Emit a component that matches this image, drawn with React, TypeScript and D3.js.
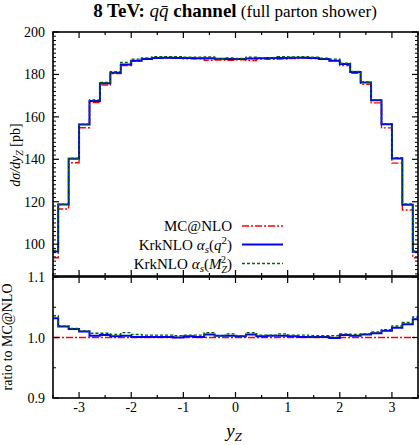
import React from "react";
import * as d3 from "d3";

const binCenters = [-3.5, -3.3, -3.1, -2.9, -2.7, -2.5, -2.3, -2.1, -1.9, -1.7, -1.5, -1.3, -1.1, -0.9, -0.7, -0.5, -0.3, -0.1,
  0.1, 0.3, 0.5, 0.7, 0.9, 1.1, 1.3, 1.5, 1.7, 1.9, 2.1, 2.3, 2.5, 2.7, 2.9, 3.1, 3.3, 3.5];

const mcnlo = [93.6, 116.6, 138.4, 154.9, 166.8, 175.0, 180.4, 184.2, 186.3, 187.1, 187.6, 187.7, 187.8, 187.4, 187.4, 186.7, 186.8, 186.7,
  186.9, 186.6, 187.2, 187.1, 187.2, 187.5, 187.7, 187.5, 187.1, 186.6, 184.2, 180.5, 175.3, 166.6, 154.8, 138.2, 116.1, 93.6];
const krkQ2 = [96.6, 118.7, 140.3, 156.4, 167.5, 175.8, 180.8, 184.7, 186.5, 187.3, 187.8, 187.9, 187.8, 187.8, 187.6, 187.6, 187.4, 187.3,
  187.3, 187.5, 187.6, 187.7, 187.8, 187.9, 187.9, 187.7, 187.3, 186.4, 184.9, 181.1, 176.2, 167.8, 156.5, 140.4, 118.6, 96.4];
const krkMZ = [97.0, 118.8, 140.5, 156.6, 168.0, 176.2, 181.3, 185.7, 187.2, 187.8, 188.3, 188.4, 188.4, 188.1, 188.1, 188.2, 187.4, 187.8,
  187.5, 188.1, 187.9, 187.8, 188.3, 188.2, 188.4, 188.1, 187.7, 187.2, 185.3, 181.4, 176.4, 168.1, 156.8, 140.8, 119.0, 96.8];

const ratioQ2 = [1.032, 1.018, 1.014, 1.010, 1.003, 1.004, 1.002, 1.003, 1.001, 1.001, 1.001, 1.001, 1.000, 1.002, 1.001, 1.005, 1.003, 1.003,
  1.002, 1.005, 1.002, 1.003, 1.003, 1.002, 1.001, 1.001, 1.001, 0.999, 1.004, 1.003, 1.005, 1.007, 1.011, 1.016, 1.022, 1.030];
const ratioMZ = [1.036, 1.019, 1.015, 1.011, 1.007, 1.007, 1.005, 1.008, 1.005, 1.004, 1.004, 1.004, 1.003, 1.004, 1.004, 1.008, 1.003, 1.006,
  1.003, 1.008, 1.004, 1.004, 1.006, 1.004, 1.004, 1.003, 1.003, 1.003, 1.006, 1.005, 1.006, 1.009, 1.013, 1.019, 1.025, 1.034];
const ratioRef = [1.0, 1.0];

const xTicks = [-3, -2, -1, 0, 1, 2, 3];
const upperTicks = [100, 120, 140, 160, 180, 200];
const lowerTicks = [0.9, 1.0, 1.1];
const legendLabels = ["MC@NLO", "KrkNLO", "KrkNLO"];

const W = 419, H = 445;
const L = 53, R = 418;
const UT = 32, UB = 276, LT = 277, LB = 398;
const FONT = "'Liberation Serif', 'DejaVu Serif', serif";

const x = d3.scaleLinear().domain([-3.5, 3.5]).range([L, R]);
const yU = d3.scaleLinear().domain([85, 200]).range([UB, UT]);
const yL = d3.scaleLinear().domain([0.9, 1.1]).range([LB, LT]);

function stepPath(vals: number[], y: d3.ScaleLinear<number, number>) {
  const pts: [number, number][] = [];
  binCenters.forEach((c, i) => {
    const a = Math.max(-3.5, c - 0.1), b = Math.min(3.5, c + 0.1);
    pts.push([a, vals[i]], [b, vals[i]]);
  });
  return d3.line<[number, number]>().x(d => x(d[0])).y(d => y(d[1]))(pts) || "";
}

const RED = "#ff0000", BLUE = "#0000ff", GREEN = "#006400";
const redDash = "7,2,2,2";
const greenDash = "3,2";

function Frame({ top, bottom, y, major, minor, fmt }: any) {
  const xMinor = d3.range(-3.5, 3.51, 0.5);
  return (
    <g>
      {xMinor.map((v, i) => {
        const isMajor = Math.abs(v - Math.round(v)) < 1e-6;
        const len = isMajor ? 6 : 3;
        return (
          <g key={"xt" + i}>
            <line x1={x(v)} x2={x(v)} y1={bottom} y2={bottom - len} stroke="#000" strokeWidth={1.2} />
            <line x1={x(v)} x2={x(v)} y1={top} y2={top + len} stroke="#000" strokeWidth={1.2} />
          </g>
        );
      })}
      {minor.map((v: number, i: number) => (
        <g key={"ym" + i}>
          <line x1={L} x2={L + 3} y1={y(v)} y2={y(v)} stroke="#000" strokeWidth={1} />
          <line x1={R} x2={R - 3} y1={y(v)} y2={y(v)} stroke="#000" strokeWidth={1} />
        </g>
      ))}
      {major.map((v: number, i: number) => (
        <g key={"yM" + i}>
          <line x1={L} x2={L + 6} y1={y(v)} y2={y(v)} stroke="#000" strokeWidth={1.2} />
          <line x1={R} x2={R - 6} y1={y(v)} y2={y(v)} stroke="#000" strokeWidth={1.2} />
          <text x={45} y={y(v) + 5} textAnchor="end" fontSize={14} fontFamily={FONT}>{fmt(v)}</text>
        </g>
      ))}
      <rect x={L} y={top} width={R - L} height={bottom - top} fill="none" stroke="#000" strokeWidth={1.6} />
    </g>
  );
}

export default function App() {
  const upperMinor = d3.range(86, 200, 2).filter(v => v % 20 !== 0);
  const lowerMinor = [0.95, 1.05];
  return (
    <svg width={W} height={H} style={{ position: "absolute", left: 0, top: 0, background: "#fff" }}>
      <defs>
        <clipPath id="cu"><rect x={L} y={UT} width={R - L} height={UB - UT} /></clipPath>
        <clipPath id="cl"><rect x={L} y={LT} width={R - L} height={LB - LT} /></clipPath>
      </defs>
      <rect width={W} height={H} fill="#fff" />
      {/* Title */}
      <text x={235} y={17} textAnchor="middle" fontFamily={FONT}>
        <tspan fontSize={19} fontWeight="bold">8 TeV: </tspan>
        <tspan fontSize={19} fontStyle="italic">{"q\u0071\u0304"}</tspan>
        <tspan fontSize={19} fontWeight="bold"> channel</tspan>
        <tspan fontSize={17}> (full parton shower)</tspan>
      </text>

      {/* Upper panel */}
      <g clipPath="url(#cu)">
        <path d={stepPath(mcnlo, yU)} fill="none" stroke={RED} strokeWidth={1.4} strokeDasharray={redDash} />
        <path d={stepPath(krkQ2, yU)} fill="none" stroke={BLUE} strokeWidth={2} />
        <path d={stepPath(krkMZ, yU)} fill="none" stroke={GREEN} strokeWidth={1.4} strokeDasharray={greenDash} />
      </g>
      <Frame top={UT} bottom={UB} y={yU} major={upperTicks} minor={upperMinor} fmt={(v: number) => String(v)} />

      {/* Legend */}
      <g fontFamily={FONT} fontSize={15}>
        <text x={232} y={231} textAnchor="end">{legendLabels[0]}</text>
        <line x1={242} x2={283} y1={226} y2={226} stroke={RED} strokeWidth={1.4} strokeDasharray={redDash} />
        <text x={232} y={250} textAnchor="end">{legendLabels[1]}<tspan dx={4} fontStyle="italic">α</tspan><tspan fontStyle="italic" fontSize={11} dy={3}>s</tspan><tspan dy={-3}>(</tspan><tspan fontStyle="italic">q</tspan><tspan fontSize={11} dy={-6}>2</tspan><tspan dy={6}>)</tspan></text>
        <line x1={242} x2={283} y1={244.5} y2={244.5} stroke={BLUE} strokeWidth={2} />
        <text x={232} y={269} textAnchor="end">{legendLabels[2]}<tspan dx={4} fontStyle="italic">α</tspan><tspan fontStyle="italic" fontSize={11} dy={3}>s</tspan><tspan dy={-3}>(</tspan><tspan fontStyle="italic">M</tspan><tspan fontStyle="italic" fontSize={10} dy={4}>Z</tspan><tspan fontSize={10} dy={-10} dx={-6}>2</tspan><tspan dy={6} dx={1}>)</tspan></text>
        <line x1={242} x2={283} y1={263.5} y2={263.5} stroke={GREEN} strokeWidth={1.4} strokeDasharray={greenDash} />
      </g>

      {/* Lower panel */}
      <g clipPath="url(#cl)">
        <path d={d3.line<number>().x((_, i) => x(i === 0 ? -3.5 : 3.5)).y(v => yL(v))(ratioRef) || ""} fill="none" stroke={RED} strokeWidth={1.4} strokeDasharray={redDash} />
        <path d={stepPath(ratioQ2, yL)} fill="none" stroke={BLUE} strokeWidth={2} />
        <path d={stepPath(ratioMZ, yL)} fill="none" stroke={GREEN} strokeWidth={1.4} strokeDasharray={greenDash} />
      </g>
      <Frame top={LT} bottom={LB} y={yL} major={lowerTicks} minor={lowerMinor} fmt={(v: number) => v.toFixed(1)} />

      {/* X tick labels */}
      {xTicks.map(v => (
        <text key={v} x={x(v)} y={412} textAnchor="middle" fontSize={14} fontFamily={FONT}>{v < 0 ? "-" + Math.abs(v) : String(v)}</text>
      ))}
      <text x={234} y={437} textAnchor="middle" fontFamily={FONT} fontSize={19} fontStyle="italic">y<tspan fontSize={13} dy={4}>Z</tspan></text>

      {/* Y labels */}
      <text transform="translate(20,155) rotate(-90)" textAnchor="middle" fontFamily={FONT} fontSize={14}>
        <tspan fontStyle="italic">dσ/dy</tspan><tspan fontStyle="italic" fontSize={10} dy={3}>Z</tspan><tspan dy={-3}> [pb]</tspan>
      </text>
      <text transform="translate(12,337) rotate(-90)" textAnchor="middle" fontFamily={FONT} fontSize={14}>ratio to MC@NLO</text>
    </svg>
  );
}
